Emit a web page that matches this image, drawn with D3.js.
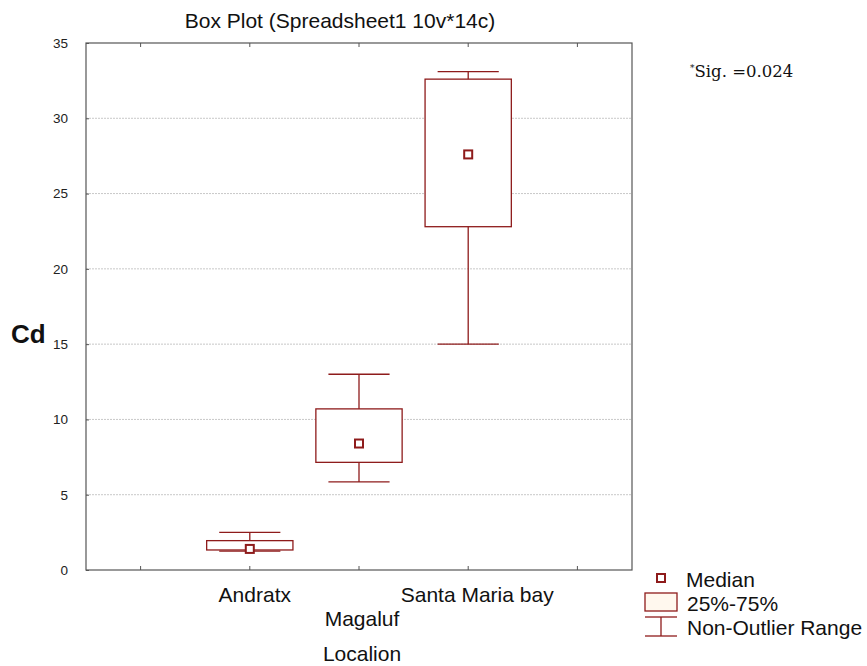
<!DOCTYPE html>
<html>
<head>
<meta charset="utf-8">
<script src="https://cdn.jsdelivr.net/npm/d3@7"></script>
<style>
  body { margin: 0; background: #fff; }
  svg { font-family: Arial, "Liberation Sans", sans-serif; }
</style>
</head>
<body>
<svg id="chart" width="867" height="666"></svg>
<script>
// ── Data ──
const slots = ["s0", "Andratx", "Magaluf", "Santa Maria bay", "s4"];
const locations = ["Andratx", "Magaluf", "Santa Maria bay"];
const medians = [1.4, 8.4, 27.6];
const q1 = [1.33, 7.15, 22.8];
const q3 = [1.95, 10.7, 32.6];
const whiskerLow = [1.26, 5.85, 15.0];
const whiskerHigh = [2.5, 13.0, 33.1];
const yTicks = [0, 5, 10, 15, 20, 25, 30, 35];
const gridTicks = [5, 10, 15, 20, 25, 30];

const boxColor = "#8e1b1b";
const axisColor = "#555";

const margin = { top: 43, right: 235, bottom: 96, left: 86 };
const width = 867, height = 666;

const svg = d3.select("#chart");

const x = d3.scaleBand()
    .domain(slots)
    .range([margin.left, width - margin.right])
    .padding(0);

const y = d3.scaleLinear()
    .domain([0, 35])
    .range([height - margin.bottom, margin.top]);

const bw = x.bandwidth();
const cx = d => x(d) + bw / 2;

// ── Grid (dotted) ──
svg.append("g")
    .selectAll("line")
    .data(gridTicks)
    .join("line")
    .attr("x1", x.range()[0])
    .attr("x2", x.range()[1])
    .attr("y1", d => y(d))
    .attr("y2", d => y(d))
    .attr("stroke", "#c8c8c8")
    .attr("stroke-width", 1)
    .attr("stroke-dasharray", "2,1");

// ── Frame ──
svg.append("rect")
    .attr("x", x.range()[0])
    .attr("y", y(35))
    .attr("width", x.range()[1] - x.range()[0])
    .attr("height", y(0) - y(35))
    .attr("fill", "none")
    .attr("stroke", axisColor)
    .attr("stroke-width", 1.2);

// ── Y axis ──
const yAxis = svg.append("g")
    .attr("transform", `translate(${margin.left},0)`)
    .call(d3.axisLeft(y).tickValues(yTicks).tickSize(-3).tickPadding(18));
yAxis.select(".domain").remove();
yAxis.selectAll(".tick line").attr("stroke", axisColor);
yAxis.selectAll(".tick text")
    .attr("font-size", 13.5)
    .attr("font-family", "Arial, 'Liberation Sans', sans-serif")
    .attr("fill", "#222");

// ── X ticks (bottom and top, pointing inward) ──
const tickG = svg.append("g");
tickG.selectAll("line.b")
    .data(slots)
    .join("line")
    .attr("x1", d => cx(d)).attr("x2", d => cx(d))
    .attr("y1", y(0)).attr("y2", y(0) - 4)
    .attr("stroke", axisColor);
tickG.selectAll("line.t")
    .data(slots)
    .join("line")
    .attr("x1", d => cx(d)).attr("x2", d => cx(d))
    .attr("y1", y(35)).attr("y2", y(35) + 4)
    .attr("stroke", axisColor);

// ── X labels (staggered) ──
const labelRow = [0, 1, 0];
const labelShift = [5, 3, 9];
svg.append("g")
    .selectAll("text")
    .data(locations)
    .join("text")
    .attr("x", (d, i) => cx(d) + labelShift[i])
    .attr("y", (d, i) => 602 + labelRow[i] * 24)
    .attr("text-anchor", "middle")
    .attr("font-size", 21)
    .attr("fill", "#111")
    .text(d => d);

// ── Boxes ──
const boxes = svg.append("g")
    .selectAll("g")
    .data(locations)
    .join("g");

// whisker stem
boxes.append("line")
    .attr("x1", d => cx(d)).attr("x2", d => cx(d))
    .attr("y1", (d, i) => y(whiskerLow[i]))
    .attr("y2", (d, i) => y(whiskerHigh[i]))
    .attr("stroke", boxColor).attr("stroke-width", 1.3);

// caps
const capW = bw * 0.56;
["low", "high"].forEach(k => {
    boxes.append("line")
        .attr("x1", d => cx(d) - capW / 2)
        .attr("x2", d => cx(d) + capW / 2)
        .attr("y1", (d, i) => y(k === "low" ? whiskerLow[i] : whiskerHigh[i]))
        .attr("y2", (d, i) => y(k === "low" ? whiskerLow[i] : whiskerHigh[i]))
        .attr("stroke", boxColor).attr("stroke-width", 1.3);
});

// box
const boxW = bw * 0.79;
boxes.append("rect")
    .attr("x", d => cx(d) - boxW / 2)
    .attr("y", (d, i) => y(q3[i]))
    .attr("width", boxW)
    .attr("height", (d, i) => y(q1[i]) - y(q3[i]))
    .attr("fill", "#fff")
    .attr("stroke", boxColor).attr("stroke-width", 1.3);

// median marker
boxes.append("rect")
    .attr("x", d => cx(d) - 4)
    .attr("y", (d, i) => y(medians[i]) - 4)
    .attr("width", 8).attr("height", 8)
    .attr("fill", "#fff")
    .attr("stroke", boxColor).attr("stroke-width", 2);

// ── Title ──
svg.append("text")
    .attr("x", 340).attr("y", 28)
    .attr("text-anchor", "middle")
    .attr("font-size", 21)
    .attr("fill", "#111")
    .text("Box Plot (Spreadsheet1 10v*14c)");

// ── Y axis title ──
svg.append("text")
    .attr("x", 11).attr("y", 343)
    .attr("font-size", 26)
    .attr("font-weight", "bold")
    .attr("fill", "#111")
    .text("Cd");

// ── X axis title ──
svg.append("text")
    .attr("x", 362).attr("y", 661)
    .attr("text-anchor", "middle")
    .attr("font-size", 21)
    .attr("fill", "#111")
    .text("Localion");

// ── Significance note ──
const sig = svg.append("text")
    .attr("x", 690).attr("y", 77)
    .attr("font-family", "'DejaVu Serif', 'Liberation Serif', serif")
    .attr("font-size", 16.5)
    .attr("fill", "#111");
sig.append("tspan").attr("font-size", 9).attr("dy", -6).text("*");
sig.append("tspan").attr("dy", 6).text("Sig. =0.024");

// ── Legend ──
const lg = svg.append("g");
lg.append("rect")
    .attr("x", 657).attr("y", 574).attr("width", 8).attr("height", 8)
    .attr("fill", "#fff").attr("stroke", boxColor).attr("stroke-width", 2);
lg.append("rect")
    .attr("x", 645).attr("y", 593).attr("width", 32).attr("height", 18)
    .attr("fill", "#fff8ee").attr("stroke", boxColor).attr("stroke-width", 1.3);
lg.append("line").attr("x1", 645).attr("x2", 677).attr("y1", 617).attr("y2", 617)
    .attr("stroke", boxColor).attr("stroke-width", 1.3);
lg.append("line").attr("x1", 645).attr("x2", 677).attr("y1", 636).attr("y2", 636)
    .attr("stroke", boxColor).attr("stroke-width", 1.3);
lg.append("line").attr("x1", 661).attr("x2", 661).attr("y1", 617).attr("y2", 636)
    .attr("stroke", boxColor).attr("stroke-width", 1.3);

const legendLabels = ["Median", "25%-75%", "Non-Outlier Range"];
const legendX = [686, 687, 687];
const legendY = [587, 611, 635];
lg.selectAll("text.lbl")
    .data(legendLabels)
    .join("text")
    .attr("x", (d, i) => legendX[i])
    .attr("y", (d, i) => legendY[i])
    .attr("font-size", 21)
    .attr("fill", "#111")
    .text(d => d);
</script>
</body>
</html>
